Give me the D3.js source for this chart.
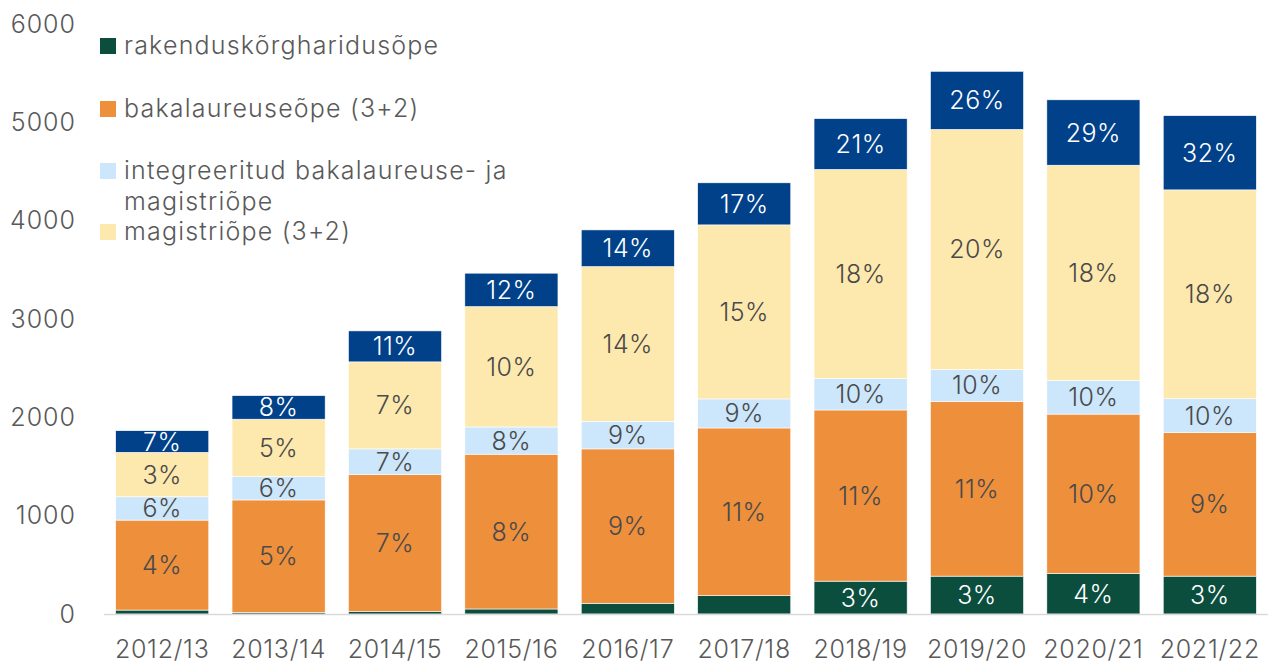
<!DOCTYPE html>
<html lang="et">
<head>
  <meta charset="UTF-8">
  <title>Õppijad õppeastmeti</title>
  <style>
    body { margin: 0; background: #fff; }
    text { font-family: Inter, 'Open Sans', 'DejaVu Sans', sans-serif; font-weight: 300; }
  </style>
  <script src="https://d3js.org/d3.v7.min.js"></script>
</head>
<body>
<script>
  // categories and series
  const years = ["2012/13", "2013/14", "2014/15", "2015/16", "2016/17", "2017/18", "2018/19", "2019/20", "2020/21", "2021/22"];
  const seriesNames = ["rakenduskõrgharidusõpe", "bakalaureuseõpe (3+2)", "integreeritud bakalaureuse- ja magistriõpe", "magistriõpe (3+2)", "doktoriõpe"];
  const rakendus   = [40, 17, 25, 51, 109, 186, 334, 385, 412, 385];
  const bakalaureus = [915, 1143, 1392, 1574, 1570, 1706, 1741, 1777, 1621, 1459];
  const integreeritud = [237, 237, 262, 277, 281, 295, 321, 324, 343, 345];
  const magister   = [452, 584, 885, 1224, 1573, 1770, 2125, 2442, 2188, 2124];
  const doktor     = [220, 240, 315, 340, 373, 428, 517, 591, 665, 755];

  // percentage labels printed in the segments ("" = no label)
  const rakendusPct = ["", "", "", "", "", "", "3%", "3%", "4%", "3%"];
  const bakalaureusPct = ["4%", "5%", "7%", "8%", "9%", "11%", "11%", "11%", "10%", "9%"];
  const integreeritudPct = ["6%", "6%", "7%", "8%", "9%", "9%", "10%", "10%", "10%", "10%"];
  const magisterPct = ["3%", "5%", "7%", "10%", "14%", "15%", "18%", "20%", "18%", "18%"];
  const doktorPct = ["7%", "8%", "11%", "12%", "14%", "17%", "21%", "26%", "29%", "32%"];

  const yTicks = [0, 1000, 2000, 3000, 4000, 5000, 6000];

  const keys = ["rakendus", "bakalaureus", "integreeritud", "magister", "doktor"];
  const colors = ["#0b4e3e", "#ee8f3c", "#cce6fb", "#fde9ae", "#00418a"];
  const pctByKey = { rakendus: rakendusPct, bakalaureus: bakalaureusPct, integreeritud: integreeritudPct, magister: magisterPct, doktor: doktorPct };
  const textColor = { rakendus: "#fff", bakalaureus: "#4a4a4a", integreeritud: "#4a4a4a", magister: "#4a4a4a", doktor: "#fff" };

  const table = years.map((y, i) => ({
    year: y,
    rakendus: rakendus[i],
    bakalaureus: bakalaureus[i],
    integreeritud: integreeritud[i],
    magister: magister[i],
    doktor: doktor[i]
  }));

  const width = 1277, height = 664;
  const svg = d3.select("body").append("svg")
    .attr("width", width)
    .attr("height", height);

  const x = d3.scaleBand()
    .domain(years)
    .range([104, 1268])
    .paddingInner(0.2)
    .paddingOuter(0.1);

  const y = d3.scaleLinear()
    .domain([0, 6000])
    .range([614, 24]);

  const stacked = d3.stack().keys(keys)(table);

  // bars
  const layer = svg.append("g")
    .selectAll("g")
    .data(stacked)
    .enter().append("g")
    .attr("fill", (d, i) => colors[i]);

  layer.selectAll("rect")
    .data(d => d)
    .enter().append("rect")
    .attr("x", d => x(d.data.year))
    .attr("y", d => y(d[1]))
    .attr("width", x.bandwidth())
    .attr("height", d => y(d[0]) - y(d[1]))
    .attr("stroke", "#fff")
    .attr("stroke-width", 0.6);

  // percent labels
  stacked.forEach(s => {
    svg.append("g")
      .selectAll("text")
      .data(s.filter((d, i) => pctByKey[s.key][i] !== ""))
      .enter().append("text")
      .attr("x", d => x(d.data.year) + x.bandwidth() / 2)
      .attr("y", d => (y(d[0]) + y(d[1])) / 2)
      .attr("dy", "0.36em")
      .attr("text-anchor", "middle")
      .attr("font-size", 25)
      .attr("letter-spacing", 0.5)
      .attr("fill", textColor[s.key])
      .text(d => pctByKey[s.key][years.indexOf(d.data.year)]);
  });

  // baseline
  svg.append("line")
    .attr("x1", 104).attr("x2", 1268)
    .attr("y1", y(0) + 0.5).attr("y2", y(0) + 0.5)
    .attr("stroke", "#d9d9d9")
    .attr("stroke-width", 1.5);

  // y axis
  const yAxis = svg.append("g")
    .attr("transform", "translate(76,0)")
    .call(d3.axisLeft(y).tickValues(yTicks).tickFormat(d3.format("d")).tickSize(0).tickPadding(0));
  yAxis.select(".domain").remove();
  yAxis.selectAll("text")
    .attr("font-size", 25)
    .attr("letter-spacing", 1)
    .attr("fill", "#595959")
    .attr("font-family", null);

  // x axis
  const xAxis = svg.append("g")
    .attr("transform", "translate(0," + y(0) + ")")
    .call(d3.axisBottom(x).tickSize(0).tickPadding(26));
  xAxis.select(".domain").remove();
  xAxis.selectAll("text")
    .attr("font-size", 25)
    .attr("letter-spacing", 0.7)
    .attr("fill", "#595959")
    .attr("font-family", null);

  // legend
  const legendRows = [
    { lines: [seriesNames[0]], y: 54 },
    { lines: [seriesNames[1]], y: 117 },
    { lines: ["integreeritud bakalaureuse- ja", "magistriõpe"], y: 179 },
    { lines: [seriesNames[3]], y: 240 }
  ];
  const legend = svg.append("g");
  legendRows.forEach((r, i) => {
    legend.append("rect")
      .attr("x", 100).attr("y", r.y - 16)
      .attr("width", 16).attr("height", 16)
      .attr("fill", colors[i]);
    r.lines.forEach((t, j) => {
      legend.append("text")
        .attr("x", 124)
        .attr("y", r.y + j * 31)
        .attr("font-size", 25)
        .attr("letter-spacing", 1.2)
        .attr("fill", "#595959")
        .text(t);
    });
  });
</script>
</body>
</html>
